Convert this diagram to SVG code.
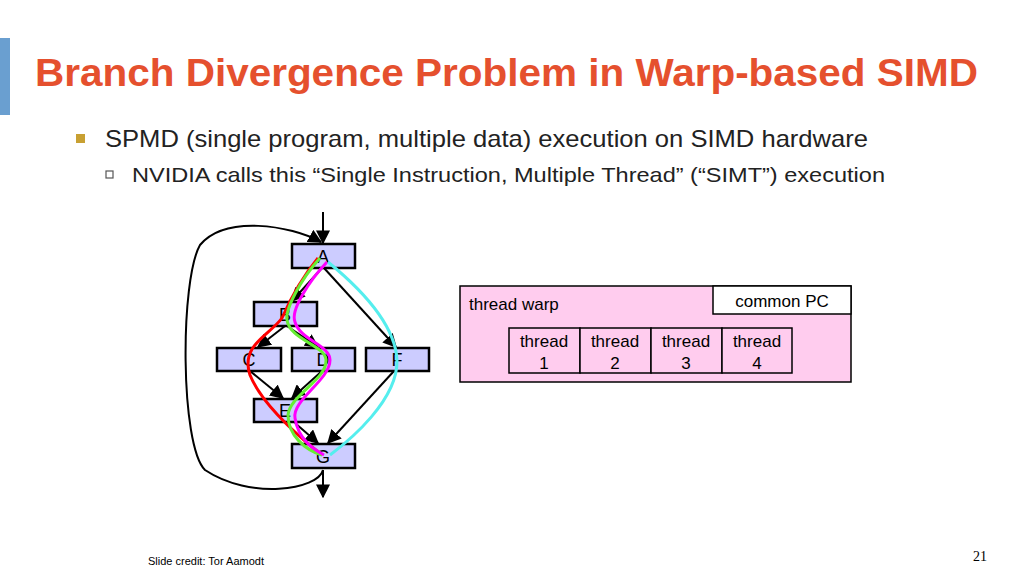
<svg xmlns="http://www.w3.org/2000/svg" width="1024" height="576" viewBox="0 0 1024 576">
<style>
text{font-family:"Liberation Sans",Arial,sans-serif}
.n{fill:#ccccff;stroke:#000;stroke-width:2.5}
.nl{font-size:18px;text-anchor:middle;fill:#000}
.e{fill:none;stroke:#000;stroke-width:2;marker-end:url(#ah)}
.p{fill:none;stroke-width:3}
.t{fill:#ffccee;stroke:#000;stroke-width:1.5}
.tt{font-size:17px;text-anchor:middle}
</style>
<defs><marker id="ah" viewBox="0 0 10 10" refX="9" refY="5" markerWidth="7" markerHeight="7" orient="auto"><path d="M0,0L10,5L0,10z" fill="#000"/></marker></defs>
<rect width="1024" height="576" fill="#fff"/>
<rect x="0" y="38" width="10" height="77" fill="#6a9fd0"/>
<text x="35" y="86" font-size="39" font-weight="bold" fill="#e5502e" textLength="943" lengthAdjust="spacingAndGlyphs">Branch Divergence Problem in Warp-based SIMD</text>
<rect x="76" y="134" width="9" height="9" fill="#c8a032"/>
<text x="105" y="147" font-size="24" fill="#222" textLength="763" lengthAdjust="spacingAndGlyphs">SPMD (single program, multiple data) execution on SIMD hardware</text>
<rect x="106" y="171" width="7" height="7" fill="none" stroke="#555" stroke-width="1.2"/>
<text x="132" y="182" font-size="21" fill="#222" textLength="753" lengthAdjust="spacingAndGlyphs">NVIDIA calls this “Single Instruction, Multiple Thread” (“SIMT”) execution</text>
<g id="edges">
<path class="e" d="M323,212V243"/>
<path class="e" d="M323,470C318,490 250,500 205,470C180,445 180,280 200,245C225,215 290,225 321,242"/>
<path class="e" d="M323,470V497"/>
<path class="e" d="M322,268L292,301"/>
<path class="e" d="M324,268L396,347"/>
<path class="e" d="M285,326L258,347"/>
<path class="e" d="M287,326L318,347"/>
<path class="e" d="M250,371L283,398"/>
<path class="e" d="M322,371L292,398"/>
<path class="e" d="M295,423L318,443"/>
<path class="e" d="M394,371L328,443"/>
</g>
<g id="A"><rect class="n" x="292" y="244" width="63" height="24"/><text class="nl" x="323" y="263">A</text></g>
<g id="B"><rect class="n" x="254" y="302" width="63" height="24"/><text class="nl" x="285" y="321">B</text></g>
<g id="C"><rect class="n" x="217" y="348" width="64" height="23"/><text class="nl" x="249" y="366">C</text></g>
<g id="D"><rect class="n" x="292" y="348" width="63" height="23"/><text class="nl" x="323" y="366">D</text></g>
<g id="F"><rect class="n" x="366" y="348" width="63" height="23"/><text class="nl" x="397" y="366">F</text></g>
<g id="E"><rect class="n" x="254" y="399" width="63" height="23"/><text class="nl" x="285" y="417">E</text></g>
<g id="G"><rect class="n" x="292" y="444" width="63" height="24"/><text class="nl" x="323" y="463">G</text></g>
<g id="paths">
<path class="p" stroke="#ff0000" d="M318,258C300,280 290,300 282,318C270,335 240,345 250,375C260,400 290,430 322,455"/>
<path class="p" stroke="#66ee33" d="M320,258C300,280 285,310 287,320C290,340 325,345 326,360C327,380 290,395 288,415C288,435 305,450 322,455"/>
<path class="p" stroke="#ff00ff" d="M327,262C310,280 290,310 295,322C300,340 330,345 330,360C330,380 292,400 295,418C298,440 315,450 324,455"/>
<path class="p" stroke="#55eeee" d="M328,262C350,280 395,320 397,360C398,400 350,440 330,455"/>
</g>
<g id="warp">
<rect class="t" x="460" y="286" width="391" height="96"/>
<text x="469" y="310" font-size="17">thread warp</text>
<rect x="713" y="286" width="138" height="28" fill="#fff" stroke="#000" stroke-width="1.5"/>
<text x="782" y="307" font-size="17" text-anchor="middle">common PC</text>
<rect class="t" x="509" y="328" width="71" height="45"/><text class="tt" x="544" y="347">thread</text><text class="tt" x="544" y="369">1</text>
<rect class="t" x="580" y="328" width="71" height="45"/><text class="tt" x="615" y="347">thread</text><text class="tt" x="615" y="369">2</text>
<rect class="t" x="651" y="328" width="71" height="45"/><text class="tt" x="686" y="347">thread</text><text class="tt" x="686" y="369">3</text>
<rect class="t" x="722" y="328" width="70" height="45"/><text class="tt" x="757" y="347">thread</text><text class="tt" x="757" y="369">4</text>
</g>
<text x="148" y="565" font-size="11">Slide credit: Tor Aamodt</text>
<text x="973" y="561" font-size="14" style="font-family:'Liberation Serif',serif">21</text>
</svg>
